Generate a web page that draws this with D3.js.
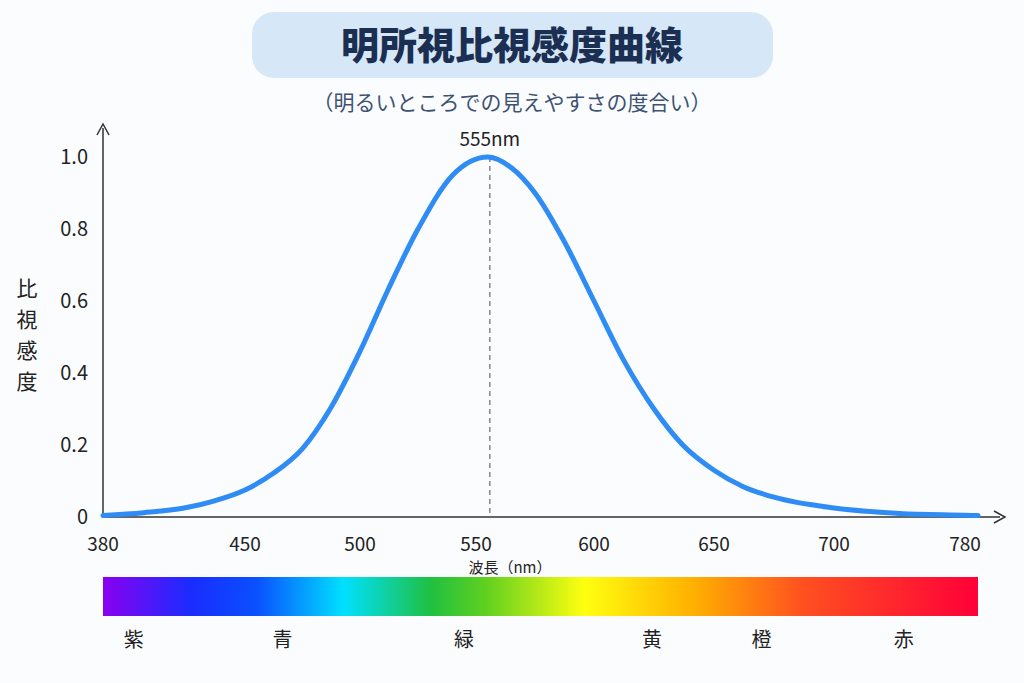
<!DOCTYPE html><html><head><meta charset="utf-8">
<script src="https://cdn.jsdelivr.net/npm/d3@7"></script>
<style>body{margin:0;background:#fbfcfe}text{font-family:"Noto Sans CJK JP","Noto Sans",sans-serif}</style></head><body>
<svg id="c" width="1024" height="683"></svg>
<script>
const xTicks=[380,450,500,550,600,650,700,780];
const yTicks=[0,0.2,0.4,0.6,0.8,1.0];
const wavelengths=[380,400,420,435,450,462,475,487,500,512,525,540,555,565,575,587,600,612,625,637,650,662,675,700,740,780,788];
const sensitivity=[0.004,0.012,0.025,0.045,0.075,0.12,0.19,0.3,0.46,0.63,0.80,0.95,1.0,0.97,0.9,0.77,0.6,0.44,0.3,0.2,0.13,0.085,0.055,0.025,0.01,0.005,0.004];
const colorNames=["紫","青","緑","黄","橙","赤"];
const colorNameNm=[394,462,545,631,681,746];
const spectrumStops=[[380,"#8a00f0"],[420,"#1a2cff"],[450,"#0a50ff"],[490,"#00e0ff"],[530,"#20c040"],[555,"#60d020"],[600,"#ffff10"],[650,"#ffb000"],[700,"#ff5020"],[780,"#ff0038"]];
const svg=d3.select("#c");
const x=d3.scaleLinear().domain(xTicks).range([103,245,360,476,594,714,834,965]);
const y=d3.scaleLinear().domain([0,1]).range([517,157]);
svg.append("rect").attr("x",252).attr("y",12).attr("width",521).attr("height",66).attr("rx",22).attr("fill","#d6e7f7");
svg.append("text").attr("x",512).attr("y",59).attr("text-anchor","middle").attr("font-size",38).attr("font-weight",900).attr("fill","#1b2f52").text("明所視比視感度曲線");
svg.append("text").attr("x",512).attr("y",110).attr("text-anchor","middle").attr("font-size",21).attr("fill","#3e5272").text("（明るいところでの見えやすさの度合い）");
const ax="#333";
svg.append("line").attr("x1",103).attr("x2",103).attr("y1",517).attr("y2",128).attr("stroke",ax).attr("stroke-width",1.5);
svg.append("path").attr("d","M97,135 L103,124 L109,135").attr("fill","none").attr("stroke",ax).attr("stroke-width",1.5);
svg.append("line").attr("x1",103).attr("x2",1000).attr("y1",517).attr("y2",517).attr("stroke",ax).attr("stroke-width",1.5);
svg.append("path").attr("d","M994,511 L1005,517 L994,523").attr("fill","none").attr("stroke",ax).attr("stroke-width",1.5);
yTicks.forEach(t=>{svg.append("text").attr("x",88).attr("y",y(t)+7).attr("text-anchor","end").attr("font-size",20).attr("fill","#222").text(t===0?"0":t.toFixed(1));});
xTicks.forEach(t=>{svg.append("text").attr("x",x(t)).attr("y",551).attr("text-anchor","middle").attr("font-size",19).attr("fill","#222").text(t);});
svg.append("text").attr("x",510).attr("y",573).attr("text-anchor","middle").attr("font-size",15).attr("fill","#222").text("波長（nm）");
["比","視","感","度"].forEach((c,i)=>svg.append("text").attr("x",27).attr("y",296+i*31).attr("text-anchor","middle").attr("font-size",21).attr("fill","#222").text(c));
svg.append("line").attr("x1",x(555)+2).attr("x2",x(555)+2).attr("y1",y(1)).attr("y2",517).attr("stroke","#888").attr("stroke-dasharray","5,4").attr("stroke-width",1.5);
svg.append("text").attr("x",x(555)+2).attr("y",146).attr("text-anchor","middle").attr("font-size",19).attr("fill","#222").text("555nm");
const line=d3.line().x((d,i)=>x(wavelengths[i])).y(d=>y(d)).curve(d3.curveMonotoneX);
svg.append("path").datum(sensitivity).attr("d",line).attr("fill","none").attr("stroke","#2f8cf5").attr("stroke-width",5).attr("stroke-linecap","round");
const gx=d3.scaleLinear().domain([380,780]).range([0,100]);
const g=svg.append("defs").append("linearGradient").attr("id","sp");
spectrumStops.forEach(s=>g.append("stop").attr("offset",gx(s[0])+"%").attr("stop-color",s[1]));
svg.append("rect").attr("x",103).attr("y",577).attr("width",875).attr("height",39).attr("fill","url(#sp)");
const bx=d3.scaleLinear().domain([380,780]).range([103,978]);
colorNames.forEach((c,i)=>svg.append("text").attr("x",bx(colorNameNm[i])).attr("y",647).attr("text-anchor","middle").attr("font-size",20).attr("fill","#222").text(c));
</script></body></html>
